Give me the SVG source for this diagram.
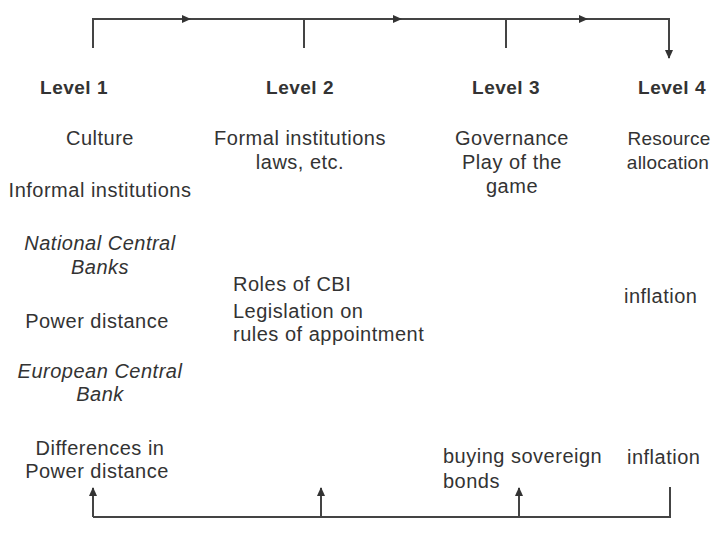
<svg xmlns="http://www.w3.org/2000/svg" width="721" height="541" viewBox="0 0 721 541">
<defs>
<style>
text{font-family:"Liberation Sans",Arial,sans-serif;font-size:20px;letter-spacing:0.5px;fill:#333;}
.h{font-weight:bold;font-size:19px;}
.i{font-style:italic;}
.c{text-anchor:middle;}
.n{font-size:19px;letter-spacing:0.2px;}
.ln{stroke:#444;stroke-width:2;fill:none;}
</style>
<marker id="ah" markerWidth="10" markerHeight="8" refX="8" refY="4" orient="auto" markerUnits="userSpaceOnUse">
<path d="M0,0 L9,4 L0,8 Z" fill="#333"/>
</marker>
</defs>
<g id="connectors">
<path class="ln" d="M93,48 V19 H669 V58" marker-end="url(#ah)"/>
<path class="ln" d="M93,19 H190" marker-end="url(#ah)"/>
<path class="ln" d="M304,19 H401" marker-end="url(#ah)"/>
<path class="ln" d="M506,19 H587" marker-end="url(#ah)"/>
<path class="ln" d="M304,19 V48"/>
<path class="ln" d="M506,19 V48"/>
<path class="ln" d="M93,517 H670 V487"/>
<path class="ln" d="M93,517 V488" marker-end="url(#ah)"/>
<path class="ln" d="M321,517 V488" marker-end="url(#ah)"/>
<path class="ln" d="M519,517 V488" marker-end="url(#ah)"/>
</g>
<g id="level1">
<text class="h c" x="74" y="94">Level 1</text>
<text class="c" x="100" y="145">Culture</text>
<text class="c" x="100" y="197">Informal institutions</text>
<text class="c i" x="100" y="250">National Central</text>
<text class="c i" x="100" y="274">Banks</text>
<text class="c" x="97" y="328">Power distance</text>
<text class="c i" x="100" y="378">European Central</text>
<text class="c i" x="100" y="401">Bank</text>
<text class="c" x="100" y="455">Differences in</text>
<text class="c" x="97" y="478">Power distance</text>
</g>
<g id="level2">
<text class="h c" x="300" y="94">Level 2</text>
<text class="c" x="300" y="145">Formal institutions</text>
<text class="c" x="300" y="169">laws, etc.</text>
<text x="233" y="291">Roles of CBI</text>
<text x="233" y="318">Legislation on</text>
<text x="233" y="341">rules of appointment</text>
</g>
<g id="level3">
<text class="h c" x="506" y="94">Level 3</text>
<text class="c" x="512" y="145">Governance</text>
<text class="c" x="512" y="169">Play of the</text>
<text class="c" x="512" y="193">game</text>
<text x="443" y="463">buying sovereign</text>
<text x="443" y="488">bonds</text>
</g>
<g id="level4">
<text class="h c" x="672" y="94">Level 4</text>
<text class="c n" x="669" y="145">Resource</text>
<text class="c n" x="668" y="169">allocation</text>
<text x="624" y="303">inflation</text>
<text x="627" y="464">inflation</text>
</g>
</svg>
